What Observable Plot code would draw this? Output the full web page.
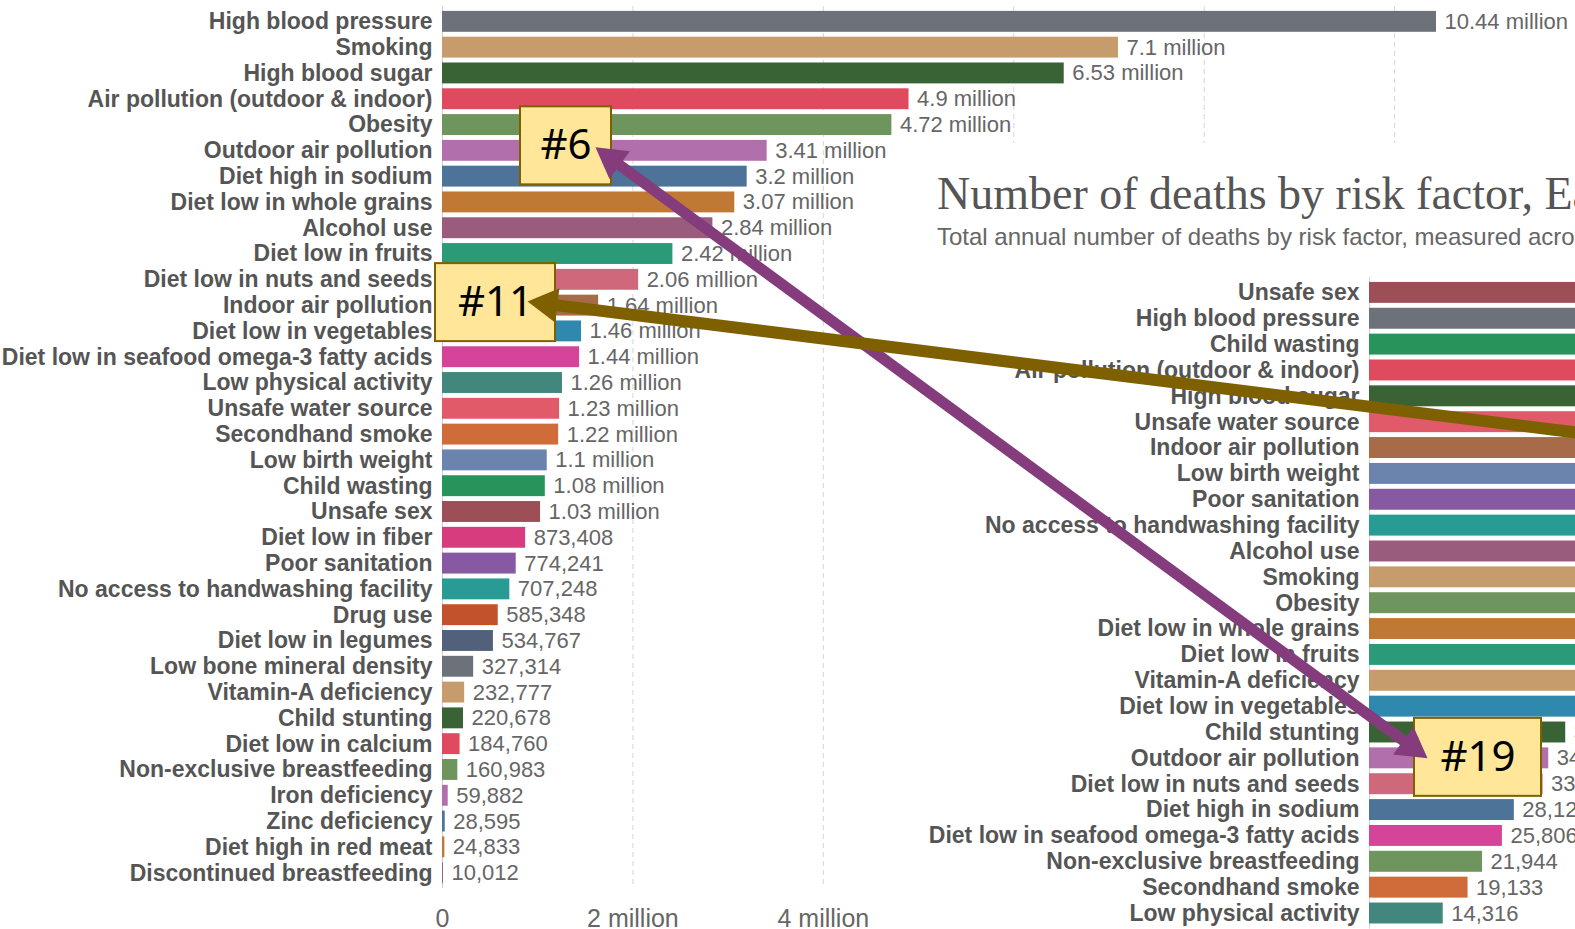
<!DOCTYPE html>
<html>
<head>
<meta charset="utf-8">
<script src="https://cdn.jsdelivr.net/npm/d3@7"></script>
<script src="https://cdn.jsdelivr.net/npm/@observablehq/plot@0.6"></script>
<style>
  html, body { margin: 0; padding: 0; background: #fff; }
  #stage { position: relative; width: 1575px; height: 929px; overflow: hidden; background: #fff;
           font-family: "Liberation Sans", Arial, sans-serif; }
  #left, #overlay { position: absolute; left: 0; top: 0; }
  #inset { position: absolute; background: #fff; overflow: hidden; }
  #inset > div { position: absolute; white-space: nowrap; }
  #title { font-family: "Liberation Serif", Georgia, serif; font-size: 46px; line-height: 46px; color: #555; }
  #subtitle { font-family: "Liberation Sans", Arial, sans-serif; font-size: 24px; line-height: 24px; color: #666; }
  svg { overflow: visible; max-width: none !important; }
</style>
</head>
<body>
<div id="stage">
  <div id="left"></div>
  <div id="inset">
    <div id="title"></div>
    <div id="subtitle"></div>
    <div id="right"></div>
  </div>
  <div id="overlay"></div>
</div>
<script>
// ---------- DATA ----------
// World, 2017 (main chart)
const worldCategories = [
  "High blood pressure", "Smoking", "High blood sugar", "Air pollution (outdoor & indoor)", "Obesity",
  "Outdoor air pollution", "Diet high in sodium", "Diet low in whole grains", "Alcohol use", "Diet low in fruits",
  "Diet low in nuts and seeds", "Indoor air pollution", "Diet low in vegetables", "Diet low in seafood omega-3 fatty acids",
  "Low physical activity", "Unsafe water source", "Secondhand smoke", "Low birth weight", "Child wasting", "Unsafe sex",
  "Diet low in fiber", "Poor sanitation", "No access to handwashing facility", "Drug use", "Diet low in legumes",
  "Low bone mineral density", "Vitamin-A deficiency", "Child stunting", "Diet low in calcium", "Non-exclusive breastfeeding",
  "Iron deficiency", "Zinc deficiency", "Diet high in red meat", "Discontinued breastfeeding"
];
const worldDeaths = [
  10440000, 7100000, 6530000, 4900000, 4720000,
  3410000, 3200000, 3070000, 2840000, 2420000,
  2060000, 1640000, 1460000, 1440000,
  1260000, 1230000, 1220000, 1100000, 1080000, 1030000,
  873408, 774241, 707248, 585348, 534767,
  327314, 232777, 220678, 184760, 160983,
  59882, 28595, 24833, 10012
];
// colour cycle, assigned to the world categories in order
const palette = [
  "#6d717a", "#c69c6d", "#3a6335", "#e04a5f", "#6f955f",
  "#b170ab", "#4e7399", "#c07835", "#9a5c7d", "#2a9a78",
  "#cf687b", "#a86b4a", "#2f88ad", "#d6449a", "#42877d",
  "#e05a6a", "#d06b3a", "#6a84ad", "#27945c", "#9c4f57",
  "#d63c7e", "#8659a2", "#279b94", "#c2522b", "#52617b"
];
const xTicks = [0, 2000000, 4000000, 6000000, 8000000, 10000000];

// Inset chart (clipped at the right edge of the picture)
const insetTitle = "Number of deaths by risk factor, Eastern Sub-Saharan Africa, 2017";
const insetSubtitle = "Total annual number of deaths by risk factor, measured across all ages and both sexes.";
const regionCategories = [
  "Unsafe sex", "High blood pressure", "Child wasting", "Air pollution (outdoor & indoor)", "High blood sugar",
  "Unsafe water source", "Indoor air pollution", "Low birth weight", "Poor sanitation", "No access to handwashing facility",
  "Alcohol use", "Smoking", "Obesity", "Diet low in whole grains", "Diet low in fruits",
  "Vitamin-A deficiency", "Diet low in vegetables", "Child stunting", "Outdoor air pollution", "Diet low in nuts and seeds",
  "Diet high in sodium", "Diet low in seafood omega-3 fatty acids", "Non-exclusive breastfeeding", "Secondhand smoke", "Low physical activity"
];
const regionDeaths = [
  193000, 178000, 165000, 152000, 118000,
  104000, 99000, 92000, 78000, 68000,
  62000, 56000, 51000, 47000, 45000,
  42500, 41200, 38100, 34800, 33700,
  28120, 25806, 21944, 19133, 14316
];

// Annotations: rank boxes and the arrows linking them
const annotationLabels = ["#6", "#11", "#19"];
const annotationCharts = ["left", "left", "right"];
const annotationCategories = ["Outdoor air pollution", "Indoor air pollution", "Outdoor air pollution"];

// ---------- LAYOUT ----------
const W = 1575, H = 929;
const insetLeft = 905, insetTop = 143;
const font = "Liberation Sans, Arial, sans-serif";
const labelColor = "#555", valueColor = "#666";

const fmt = v => v >= 1e6 ? `${+(v / 1e6).toFixed(2)} million` : d3.format(",")(v);
const tickFmt = v => v === 0 ? "0" : `${v / 1e6} million`;
const colorRange = worldCategories.map((c, i) => palette[i % palette.length]);
const colorScale = {domain: worldCategories, range: colorRange};

const world = worldCategories.map((c, i) => ({category: c, deaths: worldDeaths[i]}));
const region = regionCategories.map((c, i) => ({category: c, deaths: regionDeaths[i]}));

function barChart(data, opts) {
  const domainMax = d3.max(data, d => d.deaths);
  const plotW = opts.width - opts.marginLeft - opts.marginRight;
  // tick labels only where they are not hidden under the inset panel
  const labelTicks = opts.labelLimit == null ? [] :
    opts.ticks.filter(t => opts.marginLeft + t / domainMax * plotW < opts.labelLimit);
  const marks = [
    Plot.gridX({ticks: opts.ticks, stroke: "#d6d6d6", strokeOpacity: 1, strokeDasharray: "5,4"}),
    Plot.ruleX([0], {stroke: "#d0d0d0"}),
    Plot.barX(data, {x: "deaths", y: "category", fill: "category"}),
    Plot.text(data, {x: "deaths", y: "category", text: d => fmt(d.deaths), textAnchor: "start",
                     dx: 8, fill: valueColor, fontSize: 22}),
    Plot.axisY({tickSize: 0, tickPadding: 10, fontSize: 23, fontWeight: "bold", fill: labelColor, label: null}),
    Plot.axisX({ticks: labelTicks, tickSize: 0, tickPadding: 21, fontSize: 25, fill: valueColor,
                tickFormat: tickFmt, label: null})
  ];
  const svg = Plot.plot({
    width: opts.width, height: opts.height,
    marginLeft: opts.marginLeft, marginRight: opts.marginRight,
    marginTop: opts.marginTop, marginBottom: opts.marginBottom,
    style: {fontFamily: font, background: "transparent", overflow: "visible"},
    x: {domain: [0, domainMax], label: null},
    y: {domain: data.map(d => d.category), padding: 0.19, round: false, label: null},
    color: colorScale,
    marks
  });
  svg.style.maxWidth = "none";
  svg.style.width = opts.width + "px";
  svg.style.height = opts.height + "px";
  return svg;
}

// main (world) chart
const leftChart = barChart(world, {
  width: W, height: H, marginLeft: 442, marginRight: 139, marginTop: 6, marginBottom: 41,
  ticks: xTicks, labelLimit: insetLeft
});
document.getElementById("left").appendChild(leftChart);

// inset chart
const inset = document.getElementById("inset");
inset.style.left = insetLeft + "px";
inset.style.top = insetTop + "px";
inset.style.width = (W - insetLeft) + "px";
inset.style.height = (H - insetTop) + "px";
const titleEl = document.getElementById("title");
titleEl.textContent = insetTitle;
titleEl.style.left = "32px";
titleEl.style.top = (170.5 - insetTop) + "px";
const subEl = document.getElementById("subtitle");
subEl.textContent = insetSubtitle;
subEl.style.left = "32px";
subEl.style.top = (224.7 - insetTop) + "px";

const rightHeight = 800;
const rightChart = barChart(region, {
  width: 464 + 994 + 139, height: rightHeight, marginLeft: 464, marginRight: 139,
  marginTop: 277 - insetTop, marginBottom: rightHeight - (928.4 - insetTop),
  ticks: [0, 50000, 100000, 150000], labelLimit: null
});
const rightDiv = document.getElementById("right");
rightDiv.style.left = "0px"; rightDiv.style.top = "0px";
rightDiv.appendChild(rightChart);

// ---------- ANNOTATION OVERLAY ----------
const ly = leftChart.scale("y"), lx = leftChart.scale("x");
const ry = rightChart.scale("y"), rx = rightChart.scale("x");
const rowY = (chart, c) => chart === "left"
  ? ly.apply(c) + ly.bandwidth / 2
  : ry.apply(c) + ry.bandwidth / 2 + insetTop;
const originX = chart => chart === "left" ? lx.apply(0) : rx.apply(0) + insetLeft;

// box placement relative to the row it marks
const boxPlacement = {"#6": {dx: 123.5, dy: -5, w: 91}, "#11": {dx: 53, dy: -3, w: 120}, "#19": {dx: 108.5, dy: -1, w: 127}};
const boxH = 78;
const boxes = annotationLabels.map((label, i) => {
  const p = boxPlacement[label];
  const cx = originX(annotationCharts[i]) + p.dx;
  const cy = rowY(annotationCharts[i], annotationCategories[i]) + p.dy;
  return {label, cx, cy, x1: cx - p.w / 2, x2: cx + p.w / 2, y1: cy - boxH / 2, y2: cy + boxH / 2};
});
const box = l => boxes.find(b => b.label === l);

// arrow tips
const b6 = box("#6"), b11 = box("#11"), b19 = box("#19");
const arrows = [
  {color: "#843c7c", width: 11,
   a: [b6.x2 - 16, b6.cy + 1.5], b: [b19.x1 + 13, b19.cy + 1]},
  {color: "#7f6000", width: 12,
   a: [b11.x2 - 28, b11.cy - 1], b: [1700, rowY("right", "Indoor air pollution")]}
];
const centroidBack = 20; // apex-to-centroid distance of a 30px-tall triangle head
const headR = Math.sqrt(100 * 3 * Math.sqrt(3) / Math.PI);
const segs = [], heads = [];
for (const ar of arrows) {
  const [ax, ay] = ar.a, [bx, by] = ar.b;
  const L = Math.hypot(bx - ax, by - ay), ux = (bx - ax) / L, uy = (by - ay) / L;
  const ca = [ax + ux * centroidBack, ay + uy * centroidBack];
  const cb = [bx - ux * centroidBack, by - uy * centroidBack];
  segs.push({color: ar.color, width: ar.width, x1: ca[0], y1: ca[1], x2: cb[0], y2: cb[1]});
  heads.push({color: ar.color, x: ca[0], y: ca[1], angle: Math.atan2(-ux, uy) * 180 / Math.PI});
  heads.push({color: ar.color, x: cb[0], y: cb[1], angle: Math.atan2(ux, -uy) * 180 / Math.PI});
}

const overlayMarks = [
  Plot.rect(boxes, {x1: "x1", x2: "x2", y1: "y1", y2: "y2", fill: "#ffe699", stroke: "#7f6000", strokeWidth: 2}),
  Plot.text(boxes, {x: "cx", y: "cy", text: "label", fontSize: 42, fill: "#000",
                    fontFamily: "Noto Sans, Open Sans, sans-serif"})
];
for (const s of segs) {
  overlayMarks.push(Plot.link([s], {x1: "x1", y1: "y1", x2: "x2", y2: "y2", stroke: s.color, strokeWidth: s.width}));
}
for (const h of heads) {
  overlayMarks.push(Plot.dot([h], {x: "x", y: "y", symbol: "triangle", r: headR, rotate: "angle", fill: h.color, stroke: "none"}));
}

const overlay = Plot.plot({
  width: W, height: H, margin: 0,
  x: {domain: [0, W], range: [0, W], axis: null},
  y: {domain: [0, H], range: [0, H], axis: null},
  style: {background: "transparent", overflow: "visible"},
  marks: overlayMarks
});
overlay.style.maxWidth = "none";
document.getElementById("overlay").appendChild(overlay);
</script>
</body>
</html>
